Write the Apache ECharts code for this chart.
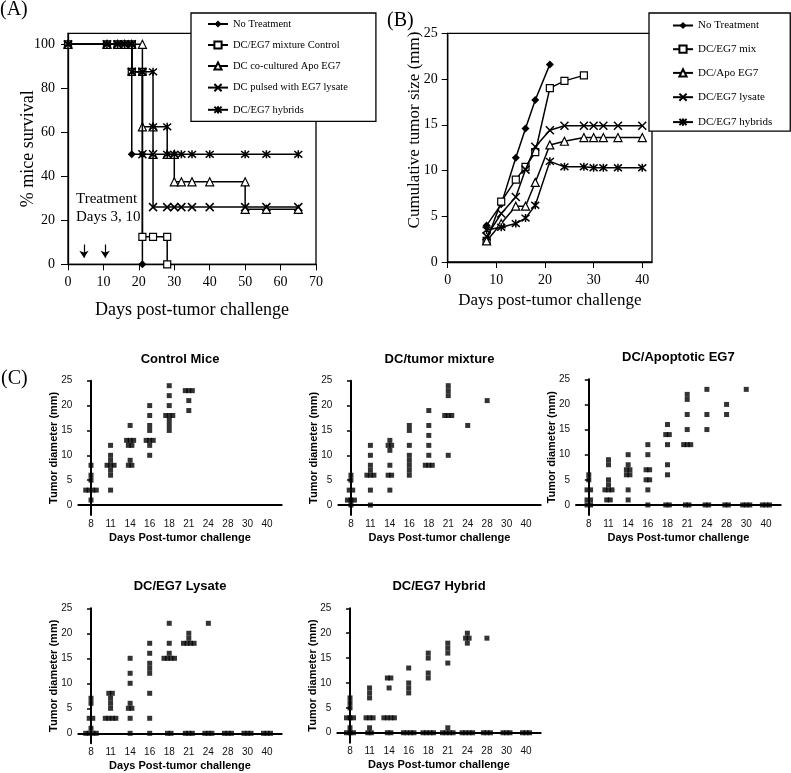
<!DOCTYPE html>
<html><head><meta charset="utf-8">
<script src="https://cdn.jsdelivr.net/npm/echarts@6/dist/echarts.min.js"></script>
<style>html,body{margin:0;padding:0;background:#fff}#c{width:791px;height:773px}</style>
</head><body><div id="c"></div>
<script>
// ---------- Panel A: % mice survival (step curves, [day, %]) ----------
const survNoTreatment = [[0,100],[11,100],[14,100],[16,100],[18,100],[18,50],[21,50],[21,0]];
const survMixture = [[0,100],[11,100],[14,100],[16,100],[18,100],[18,87.5],[21,87.5],[21,12.5],[24,12.5],[28,12.5],[28,0]];
const survApo = [[0,100],[11,100],[14,100],[16,100],[18,100],[21,100],[21,62.5],[24,62.5],[24,50],[28,50],[30,50],[30,37.5],[32,37.5],[35,37.5],[40,37.5],[50,37.5],[50,25],[56,25],[65,25]];
const survLysate = [[0,100],[11,100],[14,100],[16,100],[18,100],[18,87.5],[21,87.5],[21,50],[24,50],[24,26],[28,26],[30,26],[32,26],[35,26],[40,26],[50,26],[56,26],[65,26]];
const survHybrids = [[0,100],[11,100],[14,100],[16,100],[18,100],[18,87.5],[21,87.5],[24,87.5],[24,62.5],[28,62.5],[28,50],[30,50],[32,50],[35,50],[40,50],[50,50],[56,50],[65,50]];
const survNames = ['No Treatment','DC/EG7 mixture Control','DC co-cultured Apo EG7','DC pulsed with EG7 lysate','DC/EG7 hybrids'];
const survYTicks = [0,20,40,60,80,100];
const treatmentArrowDays = [4.5, 10.5];

// ---------- Panel B: cumulative tumor size ----------
const growthDays = [8,11,14,16,18,21,24,28,30,32,35,40];
const growthNoTreatment = [4.0,6.3,11.4,14.6,17.7,21.6];
const growthMix = [2.3,6.6,9.0,10.4,12.0,19.0,19.8,20.4];
const growthApo = [2.3,4.2,6.1,6.1,8.7,12.8,13.2,13.6,13.6,13.6,13.6,13.6];
const growthLysate = [2.8,5.3,7.1,10.1,12.6,14.4,14.9,14.9,14.9,14.9,14.9,14.9];
const growthHybrids = [3.5,3.8,4.2,4.8,6.2,11.0,10.4,10.4,10.3,10.3,10.3,10.3];
const growthNames = ['No Treatment','DC/EG7 mix','DC/Apo EG7','DC/EG7 lysate','DC/EG7 hybrids'];
const growthXTicks = [0,10,20,30,40];

// ---------- Panel C: individual tumor diameters per day ----------
const cDays = ['8','11','14','16','18','21','24','28','30','40'];
const cYTicks = [0,5,10,15,20,25];
const cControl = [
  [8,6,5,3,3,3,3,1],
  [12,10,9,8,8,8,7,6,3],
  [16,13,13,13,12,12,9,8,8],
  [20,18,16,15,13,13,13,12,10],
  [24,22,20,18,18,18,17,16,15],
  [23,23,23,21,19],
  [],[],[],[]
];
const cMixture = [
  [6,5,3,3,1,1,1,0],
  [12,10,8,7,6,6,6,3,0],
  [13,12,12,11,8,6,6,3],
  [16,15,12,10,9,8,7,6],
  [19,16,14,12,10,8,8,8],
  [24,23,22,18,18,18,10],
  [16],[21],[],[]
];
const cApoptotic = [
  [6,5,3,3,1,1,0,0],
  [9,8,5,4,3,3,3,1,1],
  [10,8,7,7,6,6,3,1],
  [12,10,7,7,5,5,3,0],
  [16,14,14,12,8,6,0,0],
  [22,21,18,15,12,12,12,0,0],
  [23,18,15,0,0],
  [20,18,0,0],
  [23,0,0,0],
  [0,0,0]
];
const cLysate = [
  [7,6,3,3,1,0,0,0,0],
  [8,8,7,6,5,3,3,3,3],
  [15,12,10,6,5,5,3,0],
  [18,16,14,13,12,8,3,0],
  [22,18,16,15,15,15,15,0,0],
  [20,19,18,18,18,18,0,0,0],
  [22,0,0,0],
  [0,0,0],
  [0,0,0],
  [0,0,0]
];
const cHybrid = [
  [7,6,5,3,3,3,1,0,0,0],
  [9,8,7,3,3,3,1,0,0],
  [11,11,9,3,3,3,3,0,0],
  [13,10,9,8,0,0,0,0],
  [16,15,12,11,0,0,0,0],
  [18,17,16,14,1,0,0,0,0],
  [20,19,19,18,0,0,0,0],
  [19,0,0,0],
  [0,0,0],
  [0,0,0]
];
const cTitles = ['Control Mice','DC/tumor mixture','DC/Apoptotic EG7','DC/EG7 Lysate','DC/EG7 Hybrid'];
const cGroups = [cControl, cMixture, cApoptotic, cLysate, cHybrid];

// ---------------- build ----------------
const serif = 'Liberation Serif';
const sans = 'Liberation Sans';
const JIT = 0.18;
function spread(groups) {
  const pts = [];
  groups.forEach((vals, ci) => {
    const counts = {}; vals.forEach(v => counts[v] = (counts[v] || 0) + 1);
    const seen = {};
    vals.forEach(v => { const n = counts[v]; const k = seen[v] || 0; seen[v] = k + 1; pts.push([ci + (k - (n - 1) / 2) * JIT, v]); });
  });
  return pts;
}
const X_PATH = 'path://M0,0L10,10M10,0L0,10';
const AST_PATH = 'path://M0,0L10,10M10,0L0,10M5,-1L5,11';
const markerStyles = [
  {symbol:'diamond', symbolSize:8, itemStyle:{color:'#000'}},
  {symbol:'rect', symbolSize:7, itemStyle:{color:'#fff', borderColor:'#000', borderWidth:1.2}},
  {symbol:'triangle', symbolSize:8, itemStyle:{color:'#fff', borderColor:'#000', borderWidth:1.2}},
  {symbol:X_PATH, symbolSize:8, itemStyle:{color:'none', borderColor:'#000', borderWidth:1.5}},
  {symbol:AST_PATH, symbolSize:8, itemStyle:{color:'none', borderColor:'#000', borderWidth:1.5}}
];
const axisBlack = {lineStyle:{color:'#000', width:1.3}};

const grids = [
  {left:68, top:33.3, width:248, height:231, show:true, borderColor:'#000', borderWidth:1.3},
  {left:447.7, top:33.3, width:204.3, height:228.7, show:true, borderColor:'#000', borderWidth:1.3},
  {left:78.3, top:380.7, width:203.4, height:134.3},
  {left:338.3, top:380.7, width:202.4, height:134.3},
  {left:576, top:379.3, width:204.7, height:135.7},
  {left:78.3, top:608.3, width:203.4, height:135},
  {left:337.3, top:608.3, width:203.4, height:134.4}
];

const xAxes = [
  {gridIndex:0, type:'value', min:0, max:70, interval:10, axisLine:Object.assign({show:true}, axisBlack),
   axisTick:{show:true, length:6, lineStyle:{color:'#000'}}, splitLine:{show:false},
   axisLabel:{margin:11, fontFamily:serif, fontSize:14, color:'#000'},
   name:'Days post-tumor challenge', nameLocation:'middle', nameGap:37, nameMoveOverlap:false,
   nameTextStyle:{fontFamily:serif, fontSize:18, color:'#000'}},
  {gridIndex:1, type:'value', min:0, max:42, axisLine:Object.assign({show:true}, axisBlack),
   axisTick:{show:true, length:6, customValues:growthXTicks, lineStyle:{color:'#000'}}, splitLine:{show:false},
   axisLabel:{margin:11, fontFamily:serif, fontSize:14, color:'#000', customValues:growthXTicks},
   name:'Days post-tumor challenge', nameLocation:'middle', nameGap:30, nameMoveOverlap:false,
   nameTextStyle:{fontFamily:serif, fontSize:17, color:'#000'}}
];
const yAxes = [
  {gridIndex:0, type:'value', min:0, max:105, axisLine:Object.assign({show:true}, axisBlack),
   axisTick:{show:true, length:7, customValues:survYTicks, lineStyle:{color:'#000'}}, splitLine:{show:false},
   axisLabel:{margin:13, fontFamily:serif, fontSize:14, color:'#000', customValues:survYTicks},
   name:'% mice survival', nameLocation:'middle', nameGap:31, nameMoveOverlap:false,
   nameTextStyle:{fontFamily:serif, fontSize:18, color:'#000'}},
  {gridIndex:1, type:'value', min:0, max:25, interval:5, axisLine:Object.assign({show:true}, axisBlack),
   axisTick:{show:true, length:6, lineStyle:{color:'#000'}}, splitLine:{show:false},
   axisLabel:{margin:10, fontFamily:serif, fontSize:14, color:'#000'}}
];
const series = [];
const survData = [survNoTreatment, survMixture, survApo, survLysate, survHybrids];
survData.forEach((d, i) => {
  const s = Object.assign({type:'line', name:survNames[i], xAxisIndex:0, yAxisIndex:0, data:d,
    lineStyle:{color:'#000', width:1.5}, z:3 + i}, markerStyles[i]);
  if (i === 0) {
    s.markLine = {silent:true, symbol:['none','arrow'], symbolSize:7, label:{show:false},
      lineStyle:{color:'#000', width:1.2, type:'solid'},
      data: treatmentArrowDays.map(dd => [{coord:[dd, 9]}, {coord:[dd, 3]}])};
  }
  series.push(s);
});
const growthData = [growthNoTreatment, growthMix, growthApo, growthLysate, growthHybrids];
growthData.forEach((vals, i) => {
  series.push(Object.assign({type:'line', name:growthNames[i], xAxisIndex:1, yAxisIndex:1,
    data: vals.map((v, k) => [growthDays[k], v]), lineStyle:{color:'#000', width:1.5}, z:3 + i}, markerStyles[i]));
});
const titles = [];
cGroups.forEach((g, gi) => {
  const gr = grids[gi + 2];
  xAxes.push({gridIndex:gi + 2, type:'value', min:-0.65, max:9.75,
    axisLine:{show:true, lineStyle:{color:'#000', width:2}}, axisTick:{show:false}, splitLine:{show:false},
    axisLabel:{margin:4, fontFamily:sans, fontSize:10, color:'#111', customValues:cDays.map((_, k) => k),
      formatter: v => cDays[Math.round(v)]},
    name:'Days Post-tumor challenge', nameLocation:'middle', nameGap:17, nameMoveOverlap:false,
    nameTextStyle:{fontFamily:sans, fontSize:11, fontWeight:'bold', color:'#000'}});
  yAxes.push({gridIndex:gi + 2, type:'value', min:-2, max:25,
    axisLine:{show:true, lineStyle:{color:'#000', width:2}},
    axisTick:{show:true, length:4, customValues:cYTicks, lineStyle:{color:'#000', width:1.5}}, splitLine:{show:false},
    axisLabel:{margin:6, fontFamily:sans, fontSize:10, color:'#111', customValues:cYTicks},
    name:'Tumor diameter (mm)', nameLocation:'middle', nameGap:19, nameMoveOverlap:false,
    nameTextStyle:{fontFamily:sans, fontSize:11, fontWeight:'bold', color:'#000'}});
  series.push({type:'scatter', xAxisIndex:gi + 2, yAxisIndex:gi + 2, data:spread(g),
    symbol:'rect', symbolSize:5, itemStyle:{color:'#000'}});
  titles.push({text:cTitles[gi], left:gr.left + gr.width / 2, top:gr.top - 28, textAlign:'center', padding:0,
    textStyle:{fontFamily:sans, fontSize:13, fontWeight:'bold', color:'#000'}});
});

const legendCommon = {orient:'vertical', backgroundColor:'#fff', borderColor:'#000', borderWidth:1.3,
  itemWidth:20, itemHeight:9, selectedMode:false};

const option = {
  animation:false,
  backgroundColor:'#fff',
  title: titles,
  grid: grids,
  xAxis: xAxes,
  yAxis: yAxes,
  legend: [
    Object.assign({}, legendCommon, {data:survNames, left:191, top:13, padding:[5.5,28,5.5,16], itemGap:10,
      textStyle:{fontFamily:serif, fontSize:10.5, color:'#000'}}),
    Object.assign({}, legendCommon, {data:growthNames, left:649, top:13, padding:[7,18,3,23], itemGap:12.7,
      textStyle:{fontFamily:serif, fontSize:11, color:'#000'}})
  ],
  graphic: [
    {type:'text', left:0, top:0, style:{text:'(A)', font:'20px "Liberation Serif"', fill:'#000'}},
    {type:'text', left:387, top:11, style:{text:'(B)', font:'20px "Liberation Serif"', fill:'#000'}},
    {type:'text', left:1, top:369, style:{text:'(C)', font:'20px "Liberation Serif"', fill:'#000'}},
    {type:'text', left:76, top:192, style:{text:'Treatment', font:'15px "Liberation Serif"', fill:'#000'}},
    {type:'text', left:76, top:210, style:{text:'Days 3, 10', font:'15px "Liberation Serif"', fill:'#000'}},
    {type:'text', x:415, y:130, rotation:Math.PI / 2,
     style:{text:'Cumulative tumor size (mm)', font:'17px "Liberation Serif"', fill:'#000', align:'center', verticalAlign:'middle'}}
  ],
  series: series
};
const chart = echarts.init(document.getElementById('c'), null, {renderer:'canvas'});
chart.setOption(option);
</script>
</body></html>
